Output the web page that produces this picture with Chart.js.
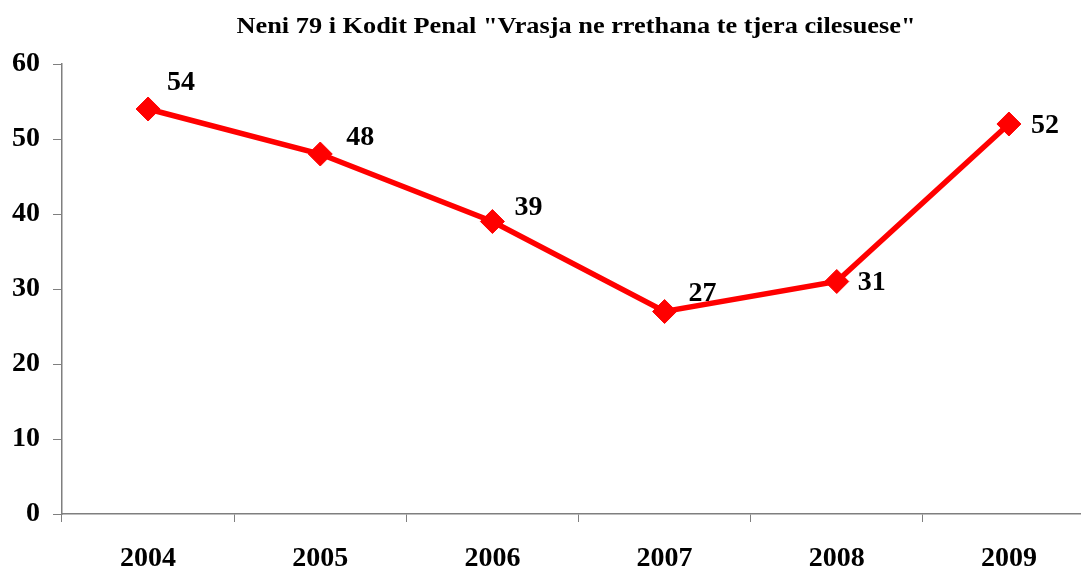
<!DOCTYPE html>
<html>
<head>
<meta charset="utf-8">
<script src="https://cdn.jsdelivr.net/npm/chart.js@4/dist/chart.umd.min.js"></script>
<style>
  html, body { margin: 0; padding: 0; background: #fff; overflow: hidden; }
</style>
</head>
<body>
<canvas id="myChart" width="1108" height="570"></canvas>
<script>
// chart data
var chartTitle = 'Neni 79 i Kodit Penal "Vrasja ne rrethana te tjera cilesuese"';
var years = ['2004', '2005', '2006', '2007', '2008', '2009'];
var cases = [54, 48, 39, 27, 31, 52];
var yTicks = [0, 10, 20, 30, 40, 50, 60];

// where each value label sits relative to its point (dx, dy)
var labelOffsets = [[19, -26], [26, -16], [22, -14], [24, -18], [21, 1], [22, 2]];

var serif = '"Liberation Serif", "Times New Roman", serif';
var axisColor = '#7f7f7f';

// title and value labels drawn by hand
var extras = {
    id: 'extras',
    afterDraw: function (chart) {
        var ctx = chart.ctx;
        ctx.save();
        ctx.fillStyle = '#000';
        ctx.font = 'bold 23px ' + serif;
        ctx.textAlign = 'center';
        ctx.textBaseline = 'middle';
        // the original title is stretched a bit wider than the font
        var w = ctx.measureText(chartTitle).width;
        var sx = 679 / w;
        ctx.save();
        ctx.translate(576, 27);
        ctx.scale(sx, 1);
        ctx.fillText(chartTitle, 0, 0);
        ctx.restore();

        ctx.font = 'bold 28px ' + serif;
        ctx.textAlign = 'left';
        var meta = chart.getDatasetMeta(0);
        meta.data.forEach(function (pt, i) {
            var off = labelOffsets[i];
            ctx.fillText(String(cases[i]), pt.x + off[0], pt.y + off[1]);
        });
        ctx.restore();
    }
};

var ctx = document.getElementById('myChart').getContext('2d');
var myChart = new Chart(ctx, {
    type: 'line',
    data: {
        labels: years,
        datasets: [{
            data: cases,
            borderColor: '#ff0000',
            backgroundColor: '#ff0000',
            borderWidth: 5.5,
            tension: 0,
            pointStyle: 'rectRot',
            pointRadius: 12,
            pointHoverRadius: 12,
            pointBorderWidth: 1,
            pointBackgroundColor: '#ff0000',
            pointBorderColor: '#ff0000'
        }]
    },
    options: {
        responsive: false,
        animation: false,
        events: [],
        layout: { padding: { top: 64, right: 2, left: 0, bottom: 0 } },
        plugins: {
            legend: { display: false },
            title: { display: false },
            tooltip: { enabled: false }
        },
        scales: {
            x: {
                offset: true,
                grid: {
                    offset: true,
                    drawOnChartArea: false,
                    drawTicks: true,
                    tickLength: 8,
                    color: axisColor
                },
                border: { display: true, color: axisColor, width: 1.5 },
                ticks: {
                    color: '#000',
                    padding: 20,
                    maxRotation: 0,
                    font: { family: serif, size: 28, weight: 'bold' }
                },
                afterFit: function (scale) { scale.height = 56; }
            },
            y: {
                min: 0,
                max: 60,
                afterBuildTicks: function (scale) {
                    scale.ticks = yTicks.map(function (v) { return { value: v }; });
                },
                grid: {
                    drawOnChartArea: false,
                    drawTicks: true,
                    tickLength: 9,
                    color: axisColor
                },
                border: { display: true, color: axisColor, width: 1.5 },
                ticks: {
                    color: '#000',
                    padding: 13,
                    font: { family: serif, size: 28, weight: 'bold' }
                },
                afterFit: function (scale) { scale.width = 62; }
            }
        }
    },
    plugins: [extras]
});
</script>
</body>
</html>
